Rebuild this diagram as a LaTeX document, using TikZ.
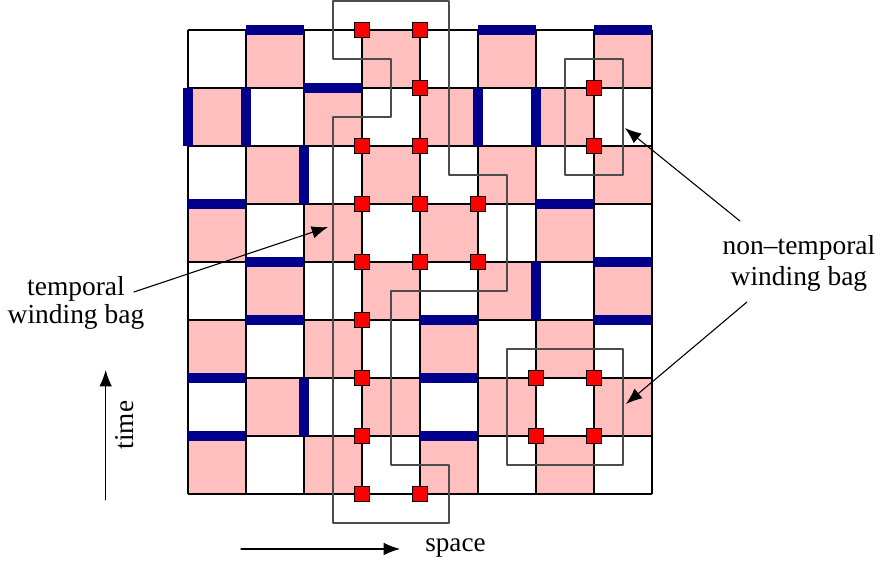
\documentclass[tikz,border=0pt]{standalone}
\usepackage{fontspec}
\setmainfont{Liberation Serif}
\usepackage{tkz-euclide}
\usetikzlibrary{arrows,arrows.meta,calc}
\definecolor{CellClr}{rgb}{1,0.75,0.75}
\definecolor{BarClr}{rgb}{0,0,0.55}
\definecolor{SiteClr}{rgb}{1,0,0}
\definecolor{BagClr}{rgb}{0.3,0.3,0.3}
\tikzset{thickbar/.style={BarClr,line width=3.7pt},
  site/.style={fill=SiteClr,draw=black,line width=0.4pt},
  lbl/.style={align=center,inner sep=0pt}}

\begin{document}
\begin{tikzpicture}[scale=.75,>={Latex[length=6pt,width=4.6pt]}]
\tkzSetUpLine[line width=0.4pt,color=black]
\useasboundingbox (-3.241,-1.259) rectangle (11.983,8.517);

% checkerboard of plaquettes
\foreach \i in {0,...,7}
  \foreach \j in {0,...,7}{
    \pgfmathtruncatemacro{\parity}{mod(\i+\j,2)}
    \ifnum\parity=0 \fill[CellClr] (\i,\j) rectangle ++(1,1);\fi
  }
\draw[line width=0.4pt] (0,0) grid (8,8);

% frustrated links
\foreach \x/\y in {1/8,5/8,7/8,2/7,0/5,6/5,1/4,7/4,1/3,4/3,7/3,0/2,4/2,0/1,4/1}
  \draw[thickbar] (\x,\y) -- ++(1,0);
\foreach \x/\y in {0/6,1/6,5/6,6/6,2/5,6/3,2/1}
  \draw[thickbar] (\x,\y) -- ++(0,1);

% bags
\tkzDefPoints{2.5/8.5/T1,2.5/7.5/T2,3.5/7.5/T3,3.5/6.5/T4,2.5/6.5/T5,2.5/-0.5/T6,4.5/-0.5/T7,
  4.5/0.5/T8,3.5/0.5/T9,3.5/3.5/T10,5.5/3.5/T11,5.5/5.5/T12,4.5/5.5/T13,4.5/8.5/T14}
\tkzDefPoints{6.5/5.5/A1,7.5/5.5/A2,7.5/7.5/A3,6.5/7.5/A4}
\tkzDefPoints{5.5/0.5/B1,7.5/0.5/B2,7.5/2.5/B3,5.5/2.5/B4}
\tkzDrawPolygon[color=BagClr,line width=0.4pt](T1,T2,T3,T4,T5,T6,T7,T8,T9,T10,T11,T12,T13,T14)
\tkzDrawPolygon[color=BagClr,line width=0.4pt](A1,A2,A3,A4)
\tkzDrawPolygon[color=BagClr,line width=0.4pt](B1,B2,B3,B4)

% sites
\foreach \x/\y in {3/8,3/6,3/5,3/4,3/3,3/2,3/1,3/0,4/8,4/7,4/6,4/5,4/4,4/0,
  5/5,5/4,6/2,6/1,7/7,7/6,7/2,7/1}
  \filldraw[site] (\x-0.125,\y-0.125) rectangle ++(0.25,0.25);

% labels
\node[lbl,font=\fontsize{10.1}{10.4}\selectfont] (temporal) at (-1.931,3.295) {temporal\\winding bag};
\node[lbl,font=\fontsize{10.1}{11.5}\selectfont] (nontemporal) at (10.534,3.978) {non–temporal\\winding bag};
\node[lbl,rotate=90] (time) at (-1.086,1.19) {time};
\node[lbl,anchor=base] (space) at (4.612,-0.995) {space};

\tkzDefPoints{-0.931/3.483/tA,2.414/4.603/tB,9.517/4.707/nA,7.534/6.31/nB,9.638/3.31/nC,7.552/1.552/nD}
\tkzDefPoints{-1.419/-0.103/tmA,-1.419/2.138/tmB,0.914/-0.948/spA,3.655/-0.948/spB}
\tkzDrawSegments[->,line width=0.4pt](tA,tB nA,nB nC,nD tmA,tmB spA,spB)

\end{tikzpicture}
\end{document}
